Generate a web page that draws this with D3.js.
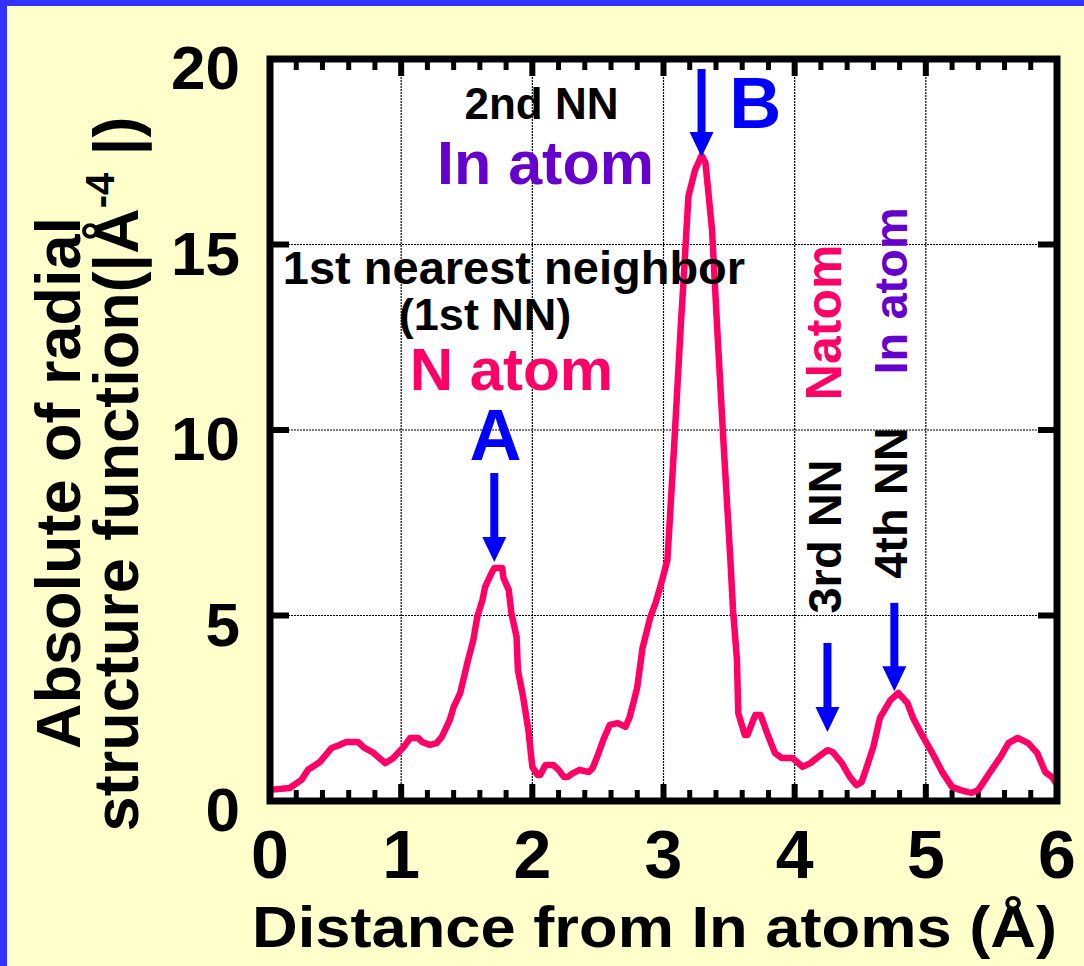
<!DOCTYPE html>
<html>
<head>
<meta charset="utf-8">
<script src="https://d3js.org/d3.v7.min.js"></script>
<style>
    body { margin: 0; background: #ffffcc; }
    text { font-family: "Liberation Sans", Arial, sans-serif; font-weight: bold; }
</style>
</head>
<body>
<div id="chart"></div>
<script>
// radial structure function
var distance = [0.00, 0.15, 0.24, 0.29, 0.38, 0.47, 0.53, 0.58, 0.67, 0.72, 0.78, 0.88, 0.94,
    1.02, 1.07, 1.13, 1.16, 1.22, 1.27, 1.31, 1.37, 1.40, 1.45, 1.51, 1.55, 1.58, 1.62, 1.64,
    1.69, 1.71, 1.77, 1.78, 1.82, 1.84, 1.88, 1.89, 1.93, 1.97, 2.00, 2.04, 2.06, 2.10, 2.16,
    2.20, 2.24, 2.27, 2.31, 2.36, 2.43, 2.46, 2.50, 2.54, 2.59, 2.65, 2.71, 2.74, 2.77, 2.80,
    2.84, 2.90, 2.94, 2.99, 3.03, 3.08, 3.13, 3.15, 3.19, 3.24, 3.29, 3.32, 3.37, 3.41, 3.46,
    3.51, 3.53, 3.56, 3.57, 3.62, 3.64, 3.70, 3.74, 3.79, 3.85, 3.90, 3.98, 4.02, 4.06, 4.12,
    4.18, 4.25, 4.29, 4.36, 4.42, 4.47, 4.51, 4.55, 4.60, 4.65, 4.73, 4.79, 4.86, 4.90, 4.97,
    5.05, 5.13, 5.20, 5.26, 5.32, 5.35, 5.40, 5.44, 5.49, 5.57, 5.63, 5.70, 5.78, 5.85, 5.91,
    5.96, 6.00];
var rsf = [0.30, 0.35, 0.57, 0.84, 1.05, 1.43, 1.51, 1.59, 1.59, 1.43, 1.32, 1.02, 1.16,
    1.46, 1.70, 1.70, 1.59, 1.51, 1.56, 1.73, 2.18, 2.53, 2.91, 3.80, 4.34, 4.96, 5.42, 5.77,
    6.15, 6.28, 6.28, 6.01, 5.69, 5.07, 4.42, 3.53, 2.80, 1.91, 0.92, 0.70, 0.70, 0.97, 0.97,
    0.84, 0.65, 0.65, 0.75, 0.84, 0.78, 0.89, 1.24, 1.64, 2.05, 2.10, 2.00, 2.24, 2.64, 3.07,
    4.12, 4.96, 5.34, 5.96, 6.50, 9.50, 12.70, 13.85, 16.30, 17.00, 17.40, 17.20, 15.40, 12.70, 9.50,
    6.50, 5.15, 3.80, 2.37, 1.78, 1.78, 2.32, 2.32, 1.83, 1.29, 1.16, 1.16, 1.05, 0.92, 1.02,
    1.19, 1.37, 1.32, 1.02, 0.65, 0.43, 0.51, 0.92, 1.46, 2.24, 2.72, 2.91, 2.64, 2.26, 1.78,
    1.29, 0.75, 0.38, 0.30, 0.24, 0.22, 0.30, 0.51, 0.78, 1.19, 1.56, 1.70, 1.56, 1.29, 0.78,
    0.65, 0.45];

var xTicks = [0, 1, 2, 3, 4, 5, 6];
var yTicks = [0, 5, 10, 15, 20];
var xMinorTicks = d3.range(0, 30).map(i => i * 0.2).filter(v => Math.abs(v - Math.round(v)) > 0.01);

// arrows: x position, top of shaft, tip (data units)
var arrowX = [1.71, 3.29, 4.25, 4.76];
var arrowTop = [8.84, 19.73, 4.26, 5.34];
var arrowTip = [6.44, 17.36, 1.86, 2.96];

// annotation labels (data units for anchor)
var labelText = ["2nd NN", "In atom", "B", "1st nearest neighbor", "(1st NN)", "N atom", "A"];
var labelX = [2.07, 2.10, 3.70, 1.86, 1.64, 1.84, 1.72];
var labelY = [18.38, 16.62, 18.14, 13.94, 12.70, 11.08, 9.19];
var labelSize = [44, 61, 72, 47, 45, 60, 72];
var labelColor = ["#000", "#6600cc", "#0000ff", "#000", "#000", "#ff0066", "#0000ff"];

var vLabelText = ["Natom", "In atom", "3rd NN", "4th NN"];
var vLabelX = [4.35, 4.86, 4.35, 4.86];
var vLabelY = [12.9, 13.75, 7.13, 8.03];
var vLabelSize = [50, 47, 47, 47];
var vLabelColor = ["#ff0066", "#6600cc", "#000", "#000"];

var width = 1084, height = 966;
var plot = { left: 270, right: 1057, top: 59, bottom: 801 };

var svg = d3.select("#chart").append("svg")
    .attr("width", width)
    .attr("height", height);

svg.append("rect").attr("width", width).attr("height", height).attr("fill", "#ffffcc");
// blue slide border (top and left)
svg.append("rect").attr("x", 0).attr("y", 0).attr("width", width).attr("height", 6).attr("fill", "#3333ff");
svg.append("rect").attr("x", 0).attr("y", 0).attr("width", 7).attr("height", height).attr("fill", "#3333ff");

var x = d3.scaleLinear().domain([0, 6]).range([plot.left, plot.right]);
var y = d3.scaleLinear().domain([0, 20]).range([plot.bottom, plot.top]);

svg.append("rect")
    .attr("x", plot.left).attr("y", plot.top)
    .attr("width", plot.right - plot.left).attr("height", plot.bottom - plot.top)
    .attr("fill", "#fff");

// dotted grid
svg.append("g")
    .selectAll("line")
    .data(xTicks.slice(1, -1))
    .enter().append("line")
    .attr("x1", d => x(d)).attr("x2", d => x(d))
    .attr("y1", plot.top).attr("y2", plot.bottom)
    .attr("stroke", "#000").attr("stroke-width", 1.2).attr("stroke-dasharray", "2,1");
svg.append("g")
    .selectAll("line")
    .data(yTicks.slice(1, -1))
    .enter().append("line")
    .attr("x1", plot.left).attr("x2", plot.right)
    .attr("y1", d => y(d)).attr("y2", d => y(d))
    .attr("stroke", "#000").attr("stroke-width", 1.2).attr("stroke-dasharray", "2,1");

// inward ticks, all four sides
var ticks = svg.append("g").attr("stroke", "#000");
[plot.bottom, plot.top].forEach(function (edge) {
    var dir = edge === plot.bottom ? -1 : 1;
    ticks.selectAll(null).data(xTicks).enter().append("line")
        .attr("x1", d => x(d)).attr("x2", d => x(d))
        .attr("y1", edge).attr("y2", edge + dir * 17)
        .attr("stroke-width", 6);
    ticks.selectAll(null).data(xMinorTicks).enter().append("line")
        .attr("x1", d => x(d)).attr("x2", d => x(d))
        .attr("y1", edge).attr("y2", edge + dir * 11)
        .attr("stroke-width", 5);
});
[plot.left, plot.right].forEach(function (edge) {
    var dir = edge === plot.left ? 1 : -1;
    ticks.selectAll(null).data(yTicks).enter().append("line")
        .attr("x1", edge).attr("x2", edge + dir * 19)
        .attr("y1", d => y(d)).attr("y2", d => y(d))
        .attr("stroke-width", 6);
});

// the curve
var line = d3.line()
    .x(d => x(d[0]))
    .y(d => y(d[1]));

svg.append("path")
    .datum(d3.zip(distance, rsf))
    .attr("d", line)
    .attr("fill", "none")
    .attr("stroke", "#ff0066")
    .attr("stroke-width", 6.5)
    .attr("stroke-linejoin", "round");

// frame
svg.append("rect")
    .attr("x", plot.left).attr("y", plot.top)
    .attr("width", plot.right - plot.left).attr("height", plot.bottom - plot.top)
    .attr("fill", "none").attr("stroke", "#000").attr("stroke-width", 7);

// tick labels
svg.append("g")
    .selectAll("text")
    .data(yTicks)
    .enter().append("text")
    .attr("x", 240)
    .attr("y", d => y(d) + 30)
    .attr("text-anchor", "end")
    .attr("font-size", 62)
    .text(d => d);

svg.append("g")
    .selectAll("text")
    .data(xTicks)
    .enter().append("text")
    .attr("x", d => x(d))
    .attr("y", 878)
    .attr("text-anchor", "middle")
    .attr("font-size", 68)
    .text(d => d);

// axis titles
svg.append("text")
    .attr("x", 654.5)
    .attr("y", 947)
    .attr("text-anchor", "middle")
    .attr("font-size", 58)
    .attr("textLength", 805)
    .attr("lengthAdjust", "spacingAndGlyphs")
    .text("Distance from In atoms (Å)");

svg.append("text")
    .attr("transform", "translate(80,483) rotate(-90)")
    .attr("text-anchor", "middle")
    .attr("font-size", 63)
    .text("Absolute of radial");

var yt2 = svg.append("text")
    .attr("transform", "translate(138,474) rotate(-90)")
    .attr("text-anchor", "middle")
    .attr("font-size", 63);
yt2.append("tspan").text("structure function(|Å");
yt2.append("tspan").attr("font-size", 40).attr("dy", -24).text("-4");
yt2.append("tspan").attr("dy", 24).text(" |)");

// arrows
var arrows = svg.append("g").attr("fill", "#0000ff").attr("stroke", "#0000ff");
arrowX.forEach(function (ax, i) {
    var cx = x(ax), tip = y(arrowTip[i]), top = y(arrowTop[i]);
    arrows.append("line")
        .attr("x1", cx).attr("x2", cx)
        .attr("y1", top).attr("y2", tip - 20)
        .attr("stroke-width", 8);
    arrows.append("path")
        .attr("stroke", "none")
        .attr("d", `M ${cx - 12} ${tip - 25} L ${cx + 12} ${tip - 25} L ${cx} ${tip} Z`);
});

// annotations
svg.append("g")
    .selectAll("text")
    .data(labelText)
    .enter().append("text")
    .attr("x", (d, i) => x(labelX[i]))
    .attr("y", (d, i) => y(labelY[i]))
    .attr("text-anchor", "middle")
    .attr("font-size", (d, i) => labelSize[i])
    .attr("fill", (d, i) => labelColor[i])
    .text(d => d);

svg.append("g")
    .selectAll("text")
    .data(vLabelText)
    .enter().append("text")
    .attr("transform", (d, i) => `translate(${x(vLabelX[i])},${y(vLabelY[i])}) rotate(-90)`)
    .attr("text-anchor", "middle")
    .attr("font-size", (d, i) => vLabelSize[i])
    .attr("fill", (d, i) => vLabelColor[i])
    .text(d => d);
</script>
</body>
</html>
